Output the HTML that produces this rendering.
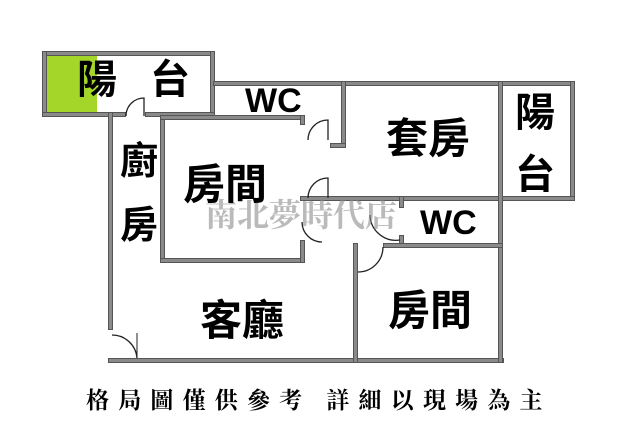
<!DOCTYPE html>
<html><head><meta charset="utf-8"><style>
body{margin:0;width:640px;height:426px;background:#fff;position:relative;overflow:hidden;font-family:"Liberation Sans","Noto Sans CJK TC",sans-serif}
.w{position:absolute;background:#8a8a8a;border:1px solid #555;box-sizing:border-box}
.t{position:absolute;font-weight:bold;color:#000;line-height:1}
</style></head><body>
<div style="position:absolute;left:45px;top:55px;width:52px;height:58px;background:#a4d62a"></div>
<div class="w" style="left:42px;top:51px;width:173px;height:5px"></div>
<div class="w" style="left:42px;top:51px;width:5px;height:66px"></div>
<div class="w" style="left:210px;top:51px;width:5px;height:66px"></div>
<div class="w" style="left:42px;top:112px;width:84px;height:5px"></div>
<div class="w" style="left:145px;top:112px;width:70px;height:5px"></div>
<div class="w" style="left:213px;top:81px;width:362px;height:5px"></div>
<div class="w" style="left:570px;top:81px;width:5px;height:120px"></div>
<div class="w" style="left:300px;top:196px;width:275px;height:5px"></div>
<div class="w" style="left:108px;top:112px;width:5px;height:218px"></div>
<div class="w" style="left:108px;top:358px;width:396px;height:5px"></div>
<div class="w" style="left:498px;top:81px;width:5px;height:282px"></div>
<div class="w" style="left:160px;top:115px;width:5px;height:148px"></div>
<div class="w" style="left:160px;top:258px;width:145px;height:5px"></div>
<div class="w" style="left:160px;top:115px;width:145px;height:5px"></div>
<div class="w" style="left:300px;top:115px;width:5px;height:10px"></div>
<div class="w" style="left:300px;top:240px;width:5px;height:23px"></div>
<div class="w" style="left:341px;top:81px;width:5px;height:67px"></div>
<div class="w" style="left:330px;top:143px;width:16px;height:5px"></div>
<div class="w" style="left:399px;top:196px;width:5px;height:12px"></div>
<div class="w" style="left:399px;top:235px;width:5px;height:12px"></div>
<div class="w" style="left:383px;top:243px;width:120px;height:5px"></div>
<div class="w" style="left:353px;top:243px;width:5px;height:120px"></div>
<svg style="position:absolute;left:0;top:0" width="640" height="426">
<g fill="none" stroke="#222" stroke-width="1.3">
<path d="M126 116 A18 18 0 0 1 144 98 L144 116"/>
<path d="M308 140 A20 20 0 0 1 328 120 L328 140"/>
<path d="M308 198 A20 20 0 0 1 328 178 L328 198"/>
<path d="M302 222 A20 20 0 0 0 322 242 L322 242"/>
<path d="M370 215 A26 26 0 0 0 400 240"/>
<path d="M358 272 A25 25 0 0 0 383 247"/>
<path d="M112 335 A25 25 0 0 1 137 358"/>
</g>
<line x1="137" y1="333" x2="137" y2="358" stroke="#222"/>
</svg>
<div style="position:absolute;left:205px;top:190px;font-family:'Liberation Serif','Noto Serif CJK SC',serif;font-weight:bold;font-size:32px;color:rgba(140,140,140,0.6);white-space:nowrap">南北夢時代店</div>
<div class="t" style="left:77px;top:60px;font-size:40px">陽</div>
<div class="t" style="left:150px;top:60px;font-size:40px">台</div>
<div class="t" style="left:245px;top:84px;font-size:34px;font-family:'Liberation Sans',sans-serif">WC</div>
<div class="t" style="left:120px;top:143px;font-size:38px">廚</div>
<div class="t" style="left:120px;top:207px;font-size:38px">房</div>
<div class="t" style="left:183px;top:164px;font-size:42px">房間</div>
<div class="t" style="left:386px;top:118px;font-size:42px">套房</div>
<div class="t" style="left:515px;top:93px;font-size:40px">陽</div>
<div class="t" style="left:515px;top:155px;font-size:40px">台</div>
<div class="t" style="left:420px;top:206px;font-size:34px;font-family:'Liberation Sans',sans-serif">WC</div>
<div class="t" style="left:388px;top:290px;font-size:42px">房間</div>
<div class="t" style="left:200px;top:300px;font-size:42px">客廳</div>
<div style="position:absolute;left:86px;top:382px;font-family:'Liberation Serif','Noto Serif CJK SC',serif;font-weight:bold;font-size:23px;letter-spacing:9.2px;white-space:nowrap">格局圖僅供參考&nbsp;詳細以現場為主</div>
</body></html>
